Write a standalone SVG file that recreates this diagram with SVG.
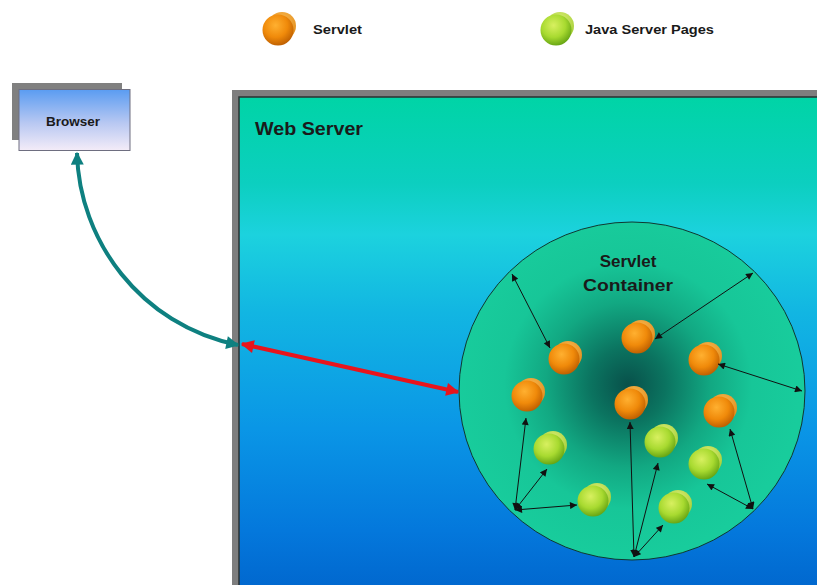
<svg xmlns="http://www.w3.org/2000/svg" xmlns:xlink="http://www.w3.org/1999/xlink" width="817" height="585" viewBox="0 0 817 585">
  <defs>
    <style>
      .lbl { font-family: "Liberation Sans", Arial, sans-serif; font-weight: bold; fill: #1a1a1a; }
      .thin { fill: none; stroke: #111; stroke-width: 1; marker-start: url(#tip); marker-end: url(#tip); }
    </style>
    <linearGradient id="serverFill" x1="0" y1="0" x2="0" y2="1">
      <stop offset="0" stop-color="#00D4A6"/>
      <stop offset="0.17" stop-color="#0CCFC0"/>
      <stop offset="0.27" stop-color="#1CD2DE"/>
      <stop offset="0.42" stop-color="#12B6E2"/>
      <stop offset="0.65" stop-color="#0A96E6"/>
      <stop offset="0.85" stop-color="#0478DC"/>
      <stop offset="1" stop-color="#0062CA"/>
    </linearGradient>
    <linearGradient id="browserFill" x1="0" y1="0" x2="0" y2="1">
      <stop offset="0" stop-color="#5A9CF2"/>
      <stop offset="0.55" stop-color="#B8C8F2"/>
      <stop offset="1" stop-color="#F4ECF8"/>
    </linearGradient>
    <radialGradient id="containerFill" cx="628" cy="385" r="172" gradientUnits="userSpaceOnUse">
      <stop offset="0" stop-color="#08504A"/>
      <stop offset="0.22" stop-color="#0B7460"/>
      <stop offset="0.48" stop-color="#12A882"/>
      <stop offset="0.72" stop-color="#17C698"/>
      <stop offset="1" stop-color="#18CC9C"/>
    </radialGradient>
    <radialGradient id="orangeFront" cx="0.42" cy="0.35" r="0.7">
      <stop offset="0" stop-color="#FFB030"/>
      <stop offset="0.55" stop-color="#F08A0A"/>
      <stop offset="1" stop-color="#B85A00"/>
    </radialGradient>
    <radialGradient id="orangeBack" cx="0.5" cy="0.3" r="0.7">
      <stop offset="0" stop-color="#F8B850"/>
      <stop offset="1" stop-color="#E08A18"/>
    </radialGradient>
    <radialGradient id="greenFront" cx="0.42" cy="0.35" r="0.7">
      <stop offset="0" stop-color="#D8F060"/>
      <stop offset="0.55" stop-color="#A8DA30"/>
      <stop offset="1" stop-color="#5E9E10"/>
    </radialGradient>
    <radialGradient id="greenBack" cx="0.5" cy="0.3" r="0.7">
      <stop offset="0" stop-color="#DCEE78"/>
      <stop offset="1" stop-color="#A0CC30"/>
    </radialGradient>
    <g id="orangeBall">
      <circle cx="3" cy="-3" r="14" fill="url(#orangeBack)"/>
      <circle cx="-1" cy="1" r="15.5" fill="url(#orangeFront)"/>
    </g>
    <g id="greenBall">
      <circle cx="3" cy="-3" r="14" fill="url(#greenBack)"/>
      <circle cx="-1" cy="1" r="15.5" fill="url(#greenFront)"/>
    </g>
    <marker id="tip" viewBox="0 0 10 10" refX="10" refY="5" markerWidth="8" markerHeight="7" markerUnits="userSpaceOnUse" orient="auto-start-reverse">
      <path d="M0,0 L10,5 L0,10 z" fill="#111"/>
    </marker>
    <marker id="tealTip" viewBox="0 0 10 10" refX="9" refY="5" markerWidth="15" markerHeight="13" markerUnits="userSpaceOnUse" orient="auto-start-reverse">
      <path d="M0,0 L10,5 L0,10 z" fill="#0E8080"/>
    </marker>
    <marker id="redTip" viewBox="0 0 10 10" refX="9" refY="5" markerWidth="16" markerHeight="13" markerUnits="userSpaceOnUse" orient="auto-start-reverse">
      <path d="M0,0 L10,5 L0,10 z" fill="#E8141C"/>
    </marker>
  </defs>

  <rect width="817" height="585" fill="#FFFFFF"/>

  <!-- legend -->
  <g id="legend-servlet">
    <use xlink:href="#orangeBall" href="#orangeBall" x="279" y="29"/>
    <text class="lbl" x="313" y="34" font-size="13" textLength="49" lengthAdjust="spacingAndGlyphs">Servlet</text>
  </g>
  <g id="legend-jsp">
    <use xlink:href="#greenBall" href="#greenBall" x="557" y="29"/>
    <text class="lbl" x="585" y="34" font-size="13" textLength="129" lengthAdjust="spacingAndGlyphs">Java Server Pages</text>
  </g>

  <!-- browser -->
  <g id="browser">
    <rect x="12" y="83" width="110" height="57" fill="#808080"/>
    <rect x="19" y="89.5" width="111" height="61" fill="url(#browserFill)" stroke="#6E6E80" stroke-width="1"/>
    <text class="lbl" x="73" y="126" font-size="13.5" text-anchor="middle" fill="#1C2040">Browser</text>
  </g>

  <!-- web server -->
  <g id="web-server">
    <rect x="232" y="90" width="600" height="510" fill="#7E7E7E"/>
    <rect x="239" y="97" width="600" height="510" fill="url(#serverFill)" stroke="#2A3030" stroke-width="1.5"/>
    <text class="lbl" x="255" y="135" font-size="18" textLength="108" lengthAdjust="spacingAndGlyphs">Web Server</text>
  </g>

  <!-- servlet container -->
  <g id="servlet-container">
    <ellipse cx="632" cy="391" rx="173" ry="169" fill="url(#containerFill)" stroke="#103830" stroke-width="1"/>
    <text class="lbl" x="628" y="267" font-size="17" text-anchor="middle" fill="#1A2E2A">Servlet</text>
    <text class="lbl" x="628" y="291" font-size="17" text-anchor="middle" fill="#1A2E2A" textLength="90" lengthAdjust="spacingAndGlyphs">Container</text>
  </g>

  <!-- servlets -->
  <g id="servlets">
    <use id="servlet-1" xlink:href="#orangeBall" href="#orangeBall" x="565" y="358"/>
    <use id="servlet-2" xlink:href="#orangeBall" href="#orangeBall" x="528" y="395"/>
    <use id="servlet-3" xlink:href="#orangeBall" href="#orangeBall" x="638" y="337"/>
    <use id="servlet-4" xlink:href="#orangeBall" href="#orangeBall" x="705" y="359"/>
    <use id="servlet-5" xlink:href="#orangeBall" href="#orangeBall" x="631" y="403"/>
    <use id="servlet-6" xlink:href="#orangeBall" href="#orangeBall" x="720" y="411"/>
  </g>

  <!-- java server pages -->
  <g id="jsps">
    <use id="jsp-1" xlink:href="#greenBall" href="#greenBall" x="550" y="448"/>
    <use id="jsp-2" xlink:href="#greenBall" href="#greenBall" x="594" y="500"/>
    <use id="jsp-3" xlink:href="#greenBall" href="#greenBall" x="661" y="441"/>
    <use id="jsp-4" xlink:href="#greenBall" href="#greenBall" x="675" y="507"/>
    <use id="jsp-5" xlink:href="#greenBall" href="#greenBall" x="705" y="463"/>
  </g>

  <!-- connectors -->
  <g id="connectors">
    <path d="M77,153 C79,240 140,325 238,345" fill="none" stroke="#0E8080" stroke-width="4" marker-start="url(#tealTip)" marker-end="url(#tealTip)"/>
    <path d="M242,344 L458,392" fill="none" stroke="#E8141C" stroke-width="4" marker-start="url(#redTip)" marker-end="url(#redTip)"/>

    <path class="thin" d="M512,274 L550,348"/>
    <path class="thin" d="M753,273 L655,339"/>
    <path class="thin" d="M718,364 L802,391"/>

    <path class="thin" d="M515,510 L526,418"/>
    <path class="thin" d="M515,510 L547,469"/>
    <path class="thin" d="M515,510 L577,505"/>

    <path class="thin" d="M634,557 L630,422"/>
    <path class="thin" d="M634,557 L658,463"/>
    <path class="thin" d="M634,557 L663,525"/>

    <path class="thin" d="M753,509 L730,429"/>
    <path class="thin" d="M753,509 L707,484"/>
  </g>
</svg>
